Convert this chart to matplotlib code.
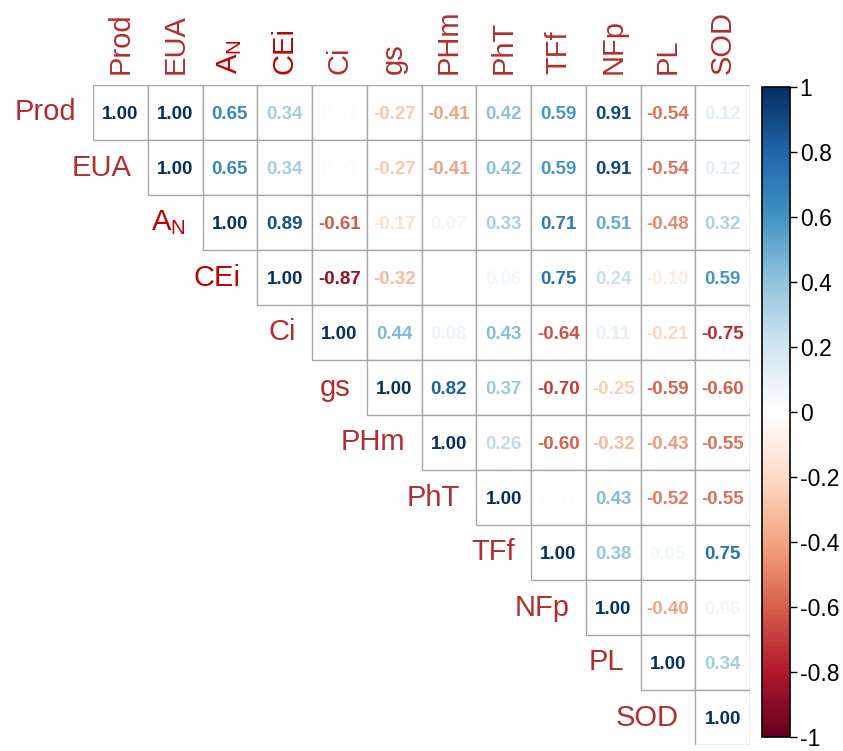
import numpy as np
import matplotlib
matplotlib.use("Agg")
import matplotlib.pyplot as plt
from matplotlib.colors import LinearSegmentedColormap, Normalize
from matplotlib.patches import Rectangle
from matplotlib.cm import ScalarMappable

plt.rcParams['font.family'] = ['Liberation Sans', 'DejaVu Sans']

variables = ["Prod", "EUA", r"A$_{\mathregular{N}}$", "CEi", "Ci", "gs",
             "PHm", "PhT", "TFf", "NFp", "PL", "SOD"]

# Upper-triangle correlations, one list per row (starting at the diagonal)
row_prod = [1.00, 1.00, 0.65, 0.34, 0.02, -0.27, -0.41, 0.42, 0.59, 0.91, -0.54, 0.12]
row_eua = [1.00, 0.65, 0.34, 0.02, -0.27, -0.41, 0.42, 0.59, 0.91, -0.54, 0.12]
row_an = [1.00, 0.89, -0.61, -0.17, 0.07, 0.33, 0.71, 0.51, -0.48, 0.32]
row_cei = [1.00, -0.87, -0.32, 0.00, 0.06, 0.75, 0.24, -0.10, 0.59]
row_ci = [1.00, 0.44, 0.08, 0.43, -0.64, 0.11, -0.21, -0.75]
row_gs = [1.00, 0.82, 0.37, -0.70, -0.25, -0.59, -0.60]
row_phm = [1.00, 0.26, -0.60, -0.32, -0.43, -0.55]
row_pht = [1.00, 0.01, 0.43, -0.52, -0.55]
row_tff = [1.00, 0.38, 0.05, 0.75]
row_nfp = [1.00, -0.40, 0.06]
row_pl = [1.00, 0.34]
row_sod = [1.00]

rows = [row_prod, row_eua, row_an, row_cei, row_ci, row_gs,
        row_phm, row_pht, row_tff, row_nfp, row_pl, row_sod]

cbar_ticks = [-1, -0.8, -0.6, -0.4, -0.2, 0, 0.2, 0.4, 0.6, 0.8, 1]

label_colors = ["#B22E2E", "#B22E2E", "#C00000", "#C00000", "#B22E2E", "#B22E2E",
                "#B22E2E", "#B22E2E", "#B22E2E", "#B22E2E", "#B22E2E", "#B22E2E"]

cmap = LinearSegmentedColormap.from_list(
    "rdbu_corr",
    ["#67001F", "#B2182B", "#D6604D", "#F4A582", "#FDDBC7", "#FFFFFF",
     "#D1E5F0", "#92C5DE", "#4393C3", "#2166AC", "#053061"])
norm = Normalize(-1, 1)

W, H = 843, 751
fig = plt.figure(figsize=(W / 100, H / 100), dpi=100)

# matrix area in pixel coordinates
x0, x1, y0, y1 = 93, 750, 85, 745
ax = fig.add_axes([x0 / W, 1 - y1 / H, (x1 - x0) / W, (y1 - y0) / H])
n = len(variables)
ax.set_xlim(0, n)
ax.set_ylim(n, 0)
ax.axis("off")

for i, vals in enumerate(rows):
    for k, v in enumerate(vals):
        j = i + k
        ax.add_patch(Rectangle((j, i), 1, 1, facecolor="white",
                               edgecolor="#A8A8A8", linewidth=1.0))
        ax.text(j + 0.5, i + 0.53, f"{v:.2f}", ha="center", va="center",
                fontsize=13.5, fontweight="bold", color=cmap(norm(v)))

# row labels sit left of the diagonal, column labels above the top row
for i, name in enumerate(variables):
    ax.text(i - 0.3, i + 0.5, name, ha="right", va="center",
            fontsize=21, color=label_colors[i], clip_on=False)
    ax.text(i + 0.5, -0.2, name, ha="center", va="bottom", rotation=90,
            fontsize=21, color=label_colors[i], clip_on=False)

# colour bar
cx0, cx1, cy0, cy1 = 762, 790, 87, 737
cax = fig.add_axes([cx0 / W, 1 - cy1 / H, (cx1 - cx0) / W, (cy1 - cy0) / H])
sm = ScalarMappable(norm=norm, cmap=cmap)
cb = fig.colorbar(sm, cax=cax, ticks=cbar_ticks)
cb.ax.set_yticklabels([f"{t:g}" for t in cbar_ticks])
cb.ax.tick_params(labelsize=16.5, length=5, width=1, direction="out", pad=2)
cb.outline.set_linewidth(1.2)

fig.savefig("out.png", dpi=100)
